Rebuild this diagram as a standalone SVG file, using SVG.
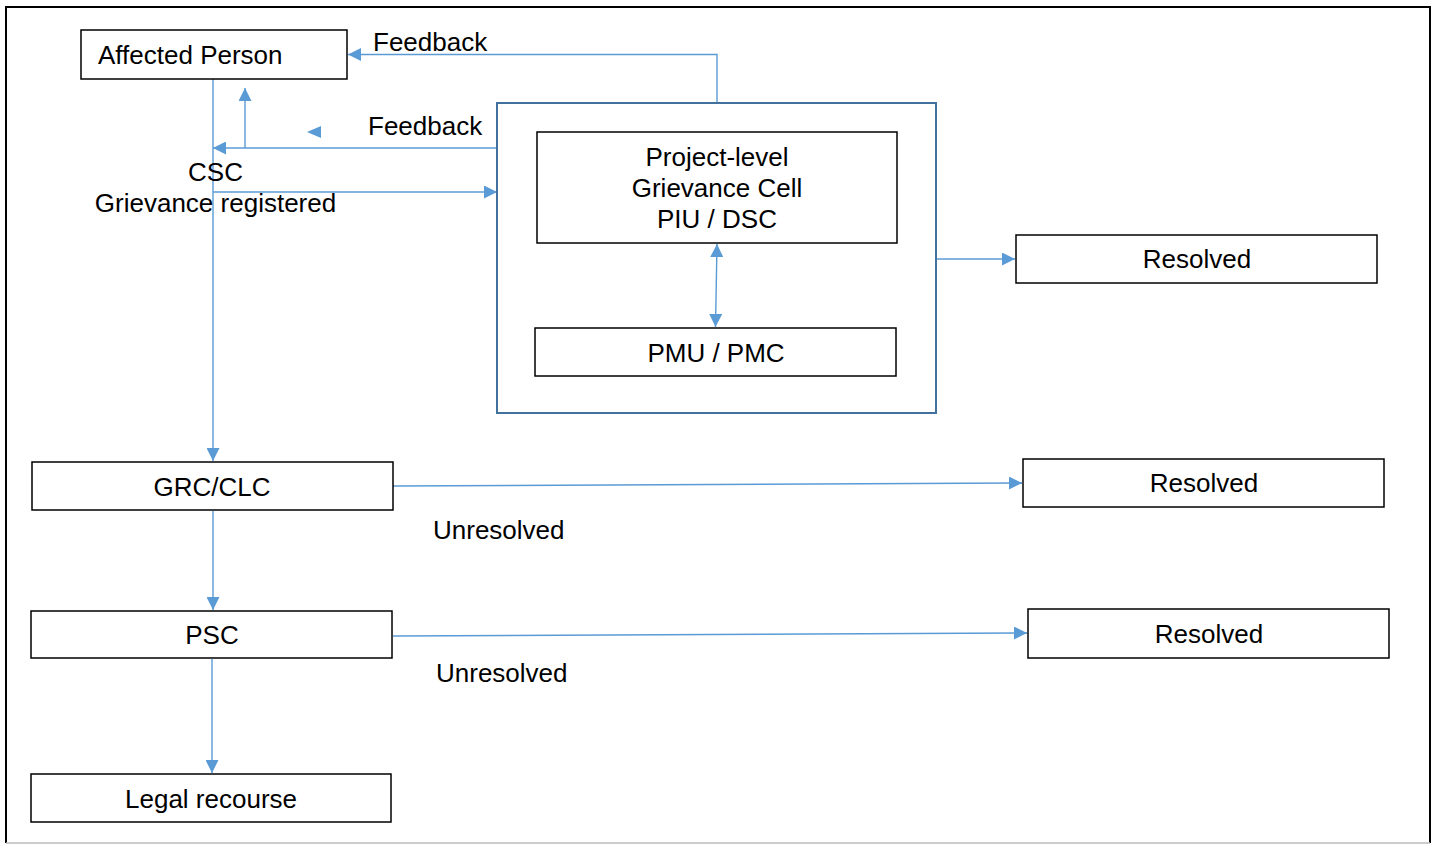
<svg xmlns="http://www.w3.org/2000/svg" width="1434" height="844" viewBox="0 0 1434 844">
<defs>
<style>
.node{fill:#fff;stroke:#000;stroke-width:1.5}
.grp{fill:none;stroke:#41719C;stroke-width:2}
.lbl{font-family:"Liberation Sans",Arial,sans-serif;font-size:26px;fill:#000}
.mid{text-anchor:middle}
.con{fill:none;stroke:#5B9BD5;stroke-width:1.4}
</style>
<marker id="ah" viewBox="0 0 10 10" refX="10" refY="5" markerWidth="14" markerHeight="13" markerUnits="userSpaceOnUse" orient="auto-start-reverse">
<path d="M0,0 L10,5 L0,10 z" fill="#5B9BD5"/>
</marker>
</defs>
<rect x="0" y="0" width="1434" height="844" fill="#fff"/>
<g id="frame">
<line x1="6" y1="7" x2="1430" y2="7" stroke="#000" stroke-width="2"/>
<line x1="6" y1="6" x2="6" y2="843" stroke="#000" stroke-width="2"/>
<line x1="1430" y1="6" x2="1430" y2="843" stroke="#000" stroke-width="2"/>
<line x1="6" y1="843" x2="1430" y2="843" stroke="#BBB" stroke-width="1.5"/>
</g>
<g id="connectors">
<polyline class="con" points="717,103 717,54.5 348,54.5" marker-end="url(#ah)"/>
<line class="con" x1="497" y1="148" x2="213" y2="148" marker-end="url(#ah)"/>
<line class="con" x1="245" y1="148" x2="245" y2="88" marker-end="url(#ah)"/>
<path d="M307,132 L321,126 L321,138 z" fill="#5B9BD5"/>
<line class="con" x1="213" y1="79" x2="213" y2="461" marker-end="url(#ah)"/>
<line class="con" x1="213" y1="192" x2="497" y2="192" marker-end="url(#ah)"/>
<line class="con" x1="717" y1="244" x2="715.5" y2="327" marker-start="url(#ah)" marker-end="url(#ah)"/>
<line class="con" x1="937" y1="259" x2="1015" y2="259" marker-end="url(#ah)"/>
<line class="con" x1="393" y1="486" x2="1022" y2="483" marker-end="url(#ah)"/>
<line class="con" x1="213" y1="511" x2="213" y2="610" marker-end="url(#ah)"/>
<line class="con" x1="393" y1="636" x2="1027" y2="633" marker-end="url(#ah)"/>
<line class="con" x1="212" y1="659" x2="212" y2="773" marker-end="url(#ah)"/>
</g>
<g id="labels">
<text class="lbl" x="373" y="51">Feedback</text>
<text class="lbl" x="368" y="135">Feedback</text>
<text class="lbl mid" x="215.5" y="181">CSC</text>
<text class="lbl mid" x="215.5" y="212">Grievance registered</text>
<text class="lbl" x="433" y="539">Unresolved</text>
<text class="lbl" x="436" y="682">Unresolved</text>
</g>
<g id="affected-person">
<rect class="node" x="81" y="30" width="266" height="49"/>
<text class="lbl" x="98" y="64">Affected Person</text>
</g>
<g id="project-group">
<rect class="grp" x="497" y="103" width="439" height="310"/>
</g>
<g id="grievance-cell">
<rect class="node" x="537" y="132" width="360" height="111"/>
<text class="lbl mid" x="717" y="166">Project-level</text>
<text class="lbl mid" x="717" y="197">Grievance Cell</text>
<text class="lbl mid" x="717" y="228">PIU / DSC</text>
</g>
<g id="pmu-pmc">
<rect class="node" x="535" y="328" width="361" height="48"/>
<text class="lbl mid" x="716" y="362">PMU / PMC</text>
</g>
<g id="resolved-1">
<rect class="node" x="1016" y="235" width="361" height="48"/>
<text class="lbl mid" x="1197" y="268">Resolved</text>
</g>
<g id="grc-clc">
<rect class="node" x="32" y="462" width="361" height="48"/>
<text class="lbl mid" x="212" y="496">GRC/CLC</text>
</g>
<g id="resolved-2">
<rect class="node" x="1023" y="459" width="361" height="48"/>
<text class="lbl mid" x="1204" y="492">Resolved</text>
</g>
<g id="psc">
<rect class="node" x="31" y="611" width="361" height="47"/>
<text class="lbl mid" x="212" y="644">PSC</text>
</g>
<g id="resolved-3">
<rect class="node" x="1028" y="609" width="361" height="49"/>
<text class="lbl mid" x="1209" y="643">Resolved</text>
</g>
<g id="legal-recourse">
<rect class="node" x="31" y="774" width="360" height="48"/>
<text class="lbl mid" x="211" y="808">Legal recourse</text>
</g>
</svg>
